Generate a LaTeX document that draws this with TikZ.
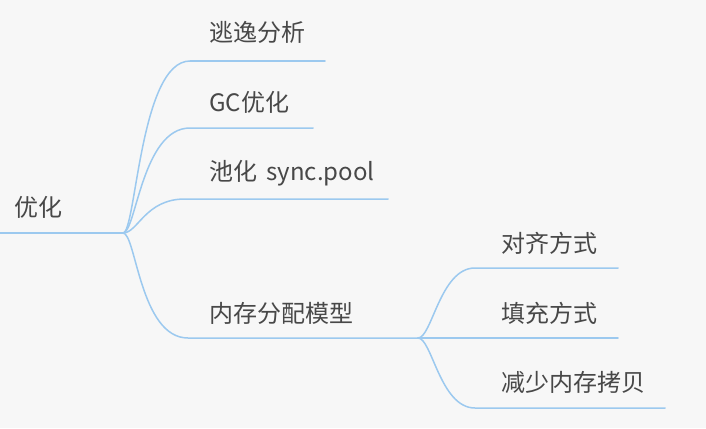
\documentclass[tikz,border=0pt]{standalone}
\usepackage{fontspec}
\setmainfont{Noto Sans CJK SC}
\definecolor{linkblue}{HTML}{9CC9EF}
\definecolor{txtgray}{HTML}{484848}
\definecolor{bggray}{HTML}{F7F7F7}
\begin{document}
\begin{tikzpicture}[x=1pt,y=-1pt,
  topic/.style={anchor=west,inner sep=0pt,text=txtgray,font=\fontsize{24}{28}\selectfont},
  link/.style={draw=linkblue,line width=1.5pt,line cap=round}]
\fill[bggray] (0,0) rectangle (706,428);
\useasboundingbox (0,0) rectangle (706,428);
%root
\coordinate (start) at (0,233);
\coordinate (hub) at (123,233);
\path (14,207) node(opt) [topic]{优化};
%first level
\coordinate (esc-e) at (325,61);
\coordinate (gc-e) at (313,128);
\coordinate (pool-e) at (388,199);
\coordinate (mem-e) at (418,338);
\path (209,32) node(esc) [topic]{逃逸分析};
\path (209,102) node(gc) [topic]{GC优化};
\path (209,173) node(pool) [topic]{池化\hspace{4pt} sync.pool};
\path (209,313) node(mem) [topic]{内存分配模型};
%second level
\coordinate (align-e) at (618,268);
\coordinate (pad-e) at (618,338);
\coordinate (copy-e) at (665,408);
\path (501,243) node(align) [topic]{对齐方式};
\path (501,313) node(pad) [topic]{填充方式};
\path (501,382) node(copy) [topic]{减少内存拷贝};
%links
\draw[link] (start) -- (hub);
\draw[link] (hub) .. controls (136,233) and (140,61) .. (190,61) -- (esc-e);
\draw[link] (hub) .. controls (136,233) and (142,128) .. (190,128) -- (gc-e);
\draw[link] (hub) .. controls (138,233) and (145,199) .. (185,199) -- (pool-e);
\draw[link] (hub) .. controls (136,233) and (140,338) .. (188,338) -- (mem-e);
\draw[link] (mem-e) .. controls (432,338) and (440,268) .. (475,268) -- (align-e);
\draw[link] (mem-e) -- (pad-e);
\draw[link] (mem-e) .. controls (432,338) and (440,408) .. (475,408) -- (copy-e);
\end{tikzpicture}
\end{document}
